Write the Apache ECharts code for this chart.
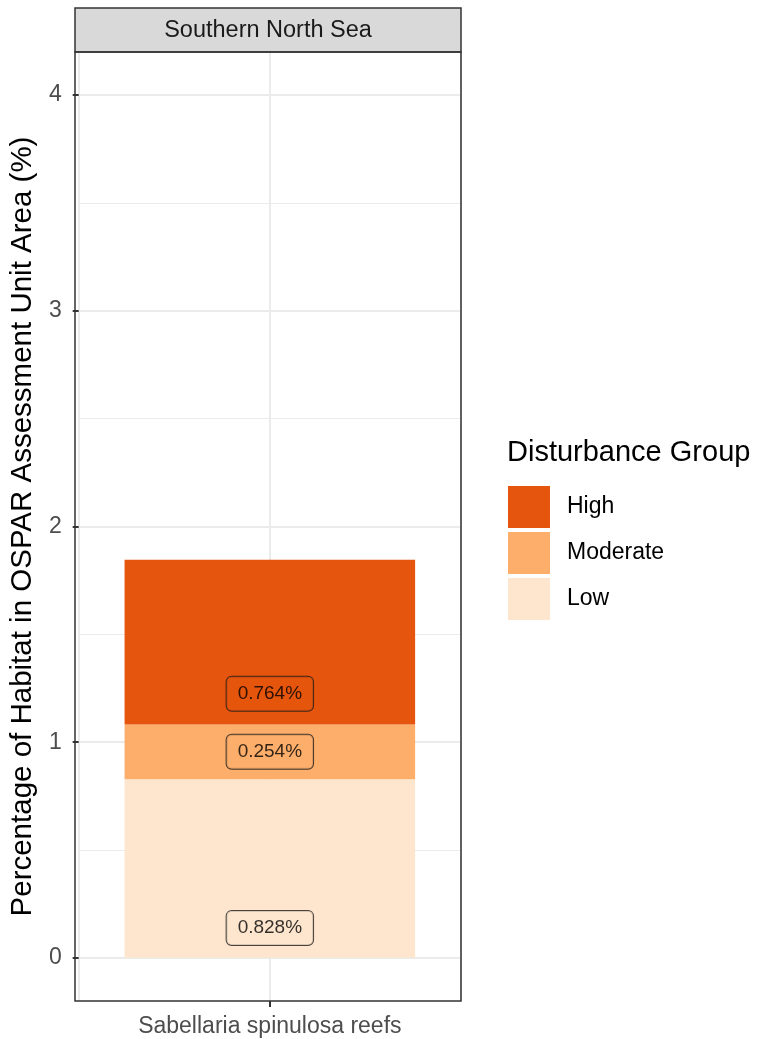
<!DOCTYPE html>
<html>
<head>
<meta charset="utf-8">
<script src="https://cdn.jsdelivr.net/npm/echarts@6/dist/echarts.min.js"></script>
<style>
html,body{margin:0;padding:0;background:#fff;}
#chart{width:758px;height:1039px;}
</style>
</head>
<body>
<div id="chart"></div>
<script>
const categories = ['Sabellaria spinulosa reefs'];
const panelTitle = 'Southern North Sea';
const groupNames = ['Low', 'Moderate', 'High'];
const lowValues = [0.828];
const moderateValues = [0.254];
const highValues = [0.764];
const labelTexts = ['0.828%', '0.254%', '0.764%'];
const labelYPositions = [0.139, 0.956, 1.225];
const yTickValues = [0, 1, 2, 3, 4];
const yMinorValues = [0.5, 1.5, 2.5, 3.5];
const legendOrder = ['High', 'Moderate', 'Low'];

const colors = { Low: '#FEE6CE', Moderate: '#FDAE6B', High: '#E6550D' };
const FONT = '"Liberation Sans", Arial, sans-serif';
const valuesByGroup = { Low: lowValues, Moderate: moderateValues, High: highValues };

const chart = echarts.init(document.getElementById('chart'), null, { renderer: 'canvas' });

const barSeries = groupNames.map(g => ({
  name: g,
  type: 'bar',
  stack: 'total',
  barWidth: '76%',
  xAxisIndex: 0,
  yAxisIndex: 0,
  itemStyle: { color: colors[g] },
  data: valuesByGroup[g],
  z: 2
}));

const labelSeries = {
  name: 'labels',
  type: 'scatter',
  xAxisIndex: 0,
  yAxisIndex: 0,
  symbolSize: 0,
  silent: true,
  z: 5,
  data: groupNames.map((g, i) => ({
    value: [categories[0], labelYPositions[i]],
    text: labelTexts[i],
    label: { backgroundColor: colors[g] }
  })),
  label: {
    show: true,
    position: 'inside',
    formatter: p => p.data.text,
    fontFamily: FONT,
    fontSize: 19,
    color: '#000',
    borderColor: '#1a1a1a',
    borderWidth: 1,
    borderRadius: 5,
    padding: [8, 11, 7, 11]
  }
};

const option = {
  backgroundColor: '#fff',
  animation: false,
  grid: { left: 75, right: 297, top: 52, bottom: 38, containLabel: false },
  legend: {
    data: legendOrder,
    orient: 'vertical',
    left: 503,
    top: 481,
    itemWidth: 42,
    itemHeight: 42,
    itemGap: 4,
    icon: 'rect',
    selectedMode: false,
    textStyle: { fontFamily: FONT, fontSize: 23, color: '#000', padding: [0, 0, 0, 12] }
  },
  xAxis: [
    {
      type: 'category',
      data: categories,
      axisLine: { show: false, onZero: false },
      axisTick: { show: true, alignWithLabel: true, length: 6, lineStyle: { color: '#333', width: 2 } },
      axisLabel: { fontFamily: FONT, fontSize: 23, color: '#4D4D4D', margin: 14 },
      splitLine: { show: false }
    },
    {
      type: 'value',
      min: 0,
      max: 2,
      interval: 1,
      position: 'bottom',
      axisLine: { show: false, onZero: false },
      axisTick: { show: false },
      axisLabel: { show: false },
      splitLine: { show: true, lineStyle: { color: '#EBEBEB', width: 2 } }
    }
  ],
  yAxis: [
    {
      type: 'value',
      min: -0.2,
      max: 4.2,
      name: 'Percentage of Habitat in OSPAR Assessment Unit Area (%)',
      nameLocation: 'middle',
      nameGap: 27,
      nameTextStyle: { fontFamily: FONT, fontSize: 29.5, color: '#000' },
      axisLine: { show: false, onZero: false },
      axisTick: { show: true, length: 6, customValues: yTickValues, lineStyle: { color: '#333', width: 2 } },
      axisLabel: { customValues: yTickValues, fontFamily: FONT, fontSize: 23, color: '#4D4D4D', margin: 17 },
      splitLine: { show: true, lineStyle: { color: '#EBEBEB', width: 2 } }
    },
    {
      type: 'value',
      min: -0.2,
      max: 4.2,
      position: 'left',
      axisLine: { show: false, onZero: false },
      axisTick: { show: false, customValues: yMinorValues },
      axisLabel: { show: false, customValues: yMinorValues },
      splitLine: { show: true, lineStyle: { color: '#EBEBEB', width: 1 } }
    }
  ],
  graphic: [
    {
      type: 'rect',
      z: 100,
      shape: { x: 75, y: 8, width: 386, height: 44 },
      style: { fill: '#D9D9D9', stroke: '#333', lineWidth: 1.5 }
    },
    {
      type: 'text',
      z: 101,
      x: 268,
      y: 31,
      style: { text: panelTitle, fontFamily: FONT, fontSize: 23.5, fill: '#1A1A1A', align: 'center', verticalAlign: 'middle' }
    },
    {
      type: 'rect',
      z: 100,
      shape: { x: 75, y: 52, width: 386, height: 949 },
      style: { fill: null, stroke: '#333', lineWidth: 1.5 }
    },
    {
      type: 'text',
      z: 101,
      x: 507,
      y: 453,
      style: { text: 'Disturbance Group', fontFamily: FONT, fontSize: 29, fill: '#000', align: 'left', verticalAlign: 'middle' }
    }
  ],
  series: barSeries.concat([labelSeries])
};

chart.setOption(option);
</script>
</body>
</html>
